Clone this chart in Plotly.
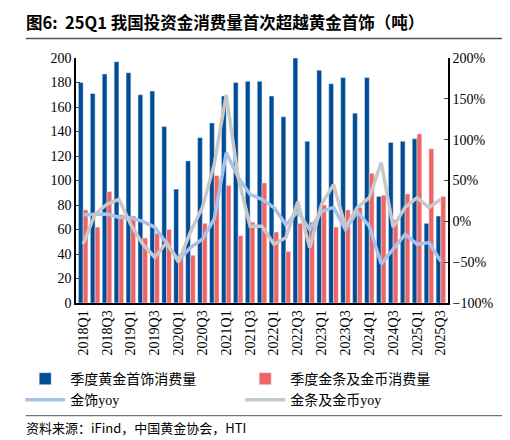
import plotly.graph_objects as go

quarters = [f"{y}Q{q}" for y in range(2018, 2026) for q in range(1, 5)][:31]

jewelry = [180, 171, 187, 197, 188, 170, 173, 144, 93, 116, 135, 147, 169, 180, 181, 181,
           169, 152, 200, 132, 190, 179, 184, 155, 184, 87, 131, 132, 134, 65, 71]
barcoin = [76, 62, 91, 72, 71, 53, 57, 60, 40, 39, 65, 104, 96, 55, 66, 98,
           58, 42, 65, 66, 80, 62, 76, 78, 106, 88, 68, 89, 138, 126, 87]
jewelry_yoy = [8, 9, 9, 5, 4, 0, -7, -27, -48, -32, -22, 3, 84, 54, 33, 27,
               17, -4, 12, -10, 12, 17, -10, 12, -6, -52, -34, -16, -28, -26, -49]
barcoin_yoy = [-28, 9, 21, 27, -4, -28, -44, -26, -50, -13, 17, 70, 155, 54, -6, -6,
               -28, -20, 24, -32, 21, 45, -7, 17, 29, 72, -7, 17, 29, 17, 27]

fnt = "Liberation Serif, Noto Sans CJK SC"
fig = go.Figure()
fig.add_trace(go.Bar(x=quarters, y=jewelry, name="季度黄金首饰消费量", marker_color="#004C97"))
fig.add_trace(go.Bar(x=quarters, y=barcoin, name="季度金条及金币消费量", marker_color="#F06464"))
fig.add_trace(go.Scatter(x=quarters, y=jewelry_yoy, name="金饰yoy", yaxis="y2", mode="lines",
                         line=dict(color="#A9C2EC", width=3.5)))
fig.add_trace(go.Scatter(x=quarters, y=barcoin_yoy, name="金条及金币yoy", yaxis="y2", mode="lines",
                         line=dict(color="#C8C8C8", width=3.5)))

fig.update_layout(
    width=510, height=440, plot_bgcolor="white", paper_bgcolor="white",
    font=dict(family=fnt, size=14, color="black"),
    margin=dict(l=55, r=70, t=50, b=145),
    barmode="group", bargap=0.2, bargroupgap=0,
    xaxis=dict(type="category", tickvals=quarters[::2], tickangle=-90, showline=True,
               linecolor="black", linewidth=1.5, ticks="", range=[-0.6, 30.6], automargin=False),
    yaxis=dict(range=[0, 200], dtick=20, showgrid=False, showline=True, linecolor="black",
               linewidth=1.5, ticks="inside", ticklen=4, automargin=False),
    yaxis2=dict(range=[-100, 200], dtick=50, overlaying="y", side="right", ticksuffix="%",
                showgrid=False, showline=True, linecolor="black", linewidth=1.5,
                ticks="inside", ticklen=4, zeroline=False, automargin=False),
    legend=dict(orientation="h", x=-0.15, y=-0.245, xanchor="left", yanchor="top",
                entrywidth=0.5, entrywidthmode="fraction", traceorder="normal",
                font=dict(size=14), tracegroupgap=0, bgcolor="rgba(0,0,0,0)",
                itemwidth=40),
    showlegend=True,
)
fig.add_annotation(text="<b>图6:  25Q1 我国投资金消费量首次超越黄金首饰（吨）</b>", x=0, y=1, xref="paper",
                   yref="paper", xanchor="left", yanchor="bottom", showarrow=False,
                   font=dict(family="Noto Sans CJK SC", size=16.5), xshift=-52, yshift=22)
fig.add_annotation(text="资料来源：iFind，中国黄金协会，HTI", x=0, y=-0.555, xref="paper", yref="paper",
                   xanchor="left", yanchor="bottom", showarrow=False,
                   font=dict(family="Noto Sans CJK SC", size=13), xshift=-52)
fig.add_shape(type="line", xref="paper", yref="paper", x0=-0.135, x1=1.17, y0=1.08, y1=1.08,
              line=dict(color="#555", width=1.5))
fig.add_shape(type="line", xref="paper", yref="paper", x0=-0.135, x1=1.17, y0=-0.46, y1=-0.46,
              line=dict(color="#555", width=1))
fig.write_html("out.html")
